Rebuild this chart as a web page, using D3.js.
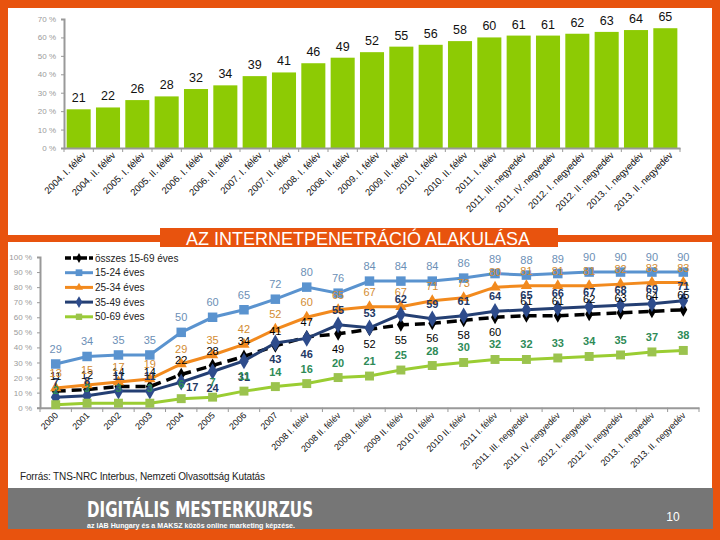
<!DOCTYPE html>
<html><head><meta charset="utf-8">
<script src="https://cdn.jsdelivr.net/npm/d3@7"></script>
<style>body{margin:0;padding:0;}svg{display:block;font-family:"Liberation Sans",Arial,sans-serif;}</style>
</head><body>
<script>
// ---------- DATA ----------
const topCats = ["2004. I. félév","2004. II. félév","2005. I. félév","2005. II. félév","2006. I. félév","2006. II. félév","2007. I. félév","2007. II. félév","2008. I. félév","2008. II. félév","2009. I. félév","2009. II. félév","2010. I. félév","2010. II. félév","2011. I. félév","2011. III. negyedév","2011. IV. negyedév","2012. I. negyedév","2012. II. negyedév","2013. I. negyedév","2013. II. negyedév"];
const topValues = [21,22,26,28,32,34,39,41,46,49,52,55,56,58,60,61,61,62,63,64,65];
const topTicks = [0,10,20,30,40,50,60,70];

const bottomCats = ["2000","2001","2002","2003","2004","2005","2006","2007","2008 I. félév","2008 II. félév","2009 I. félév","2009 II. félév","2010 I. félév","2010 II. félév","2011 I. félév","2011. III. negyedév","2011. IV. negyedév","2012. I. negyedév","2012. II. negyedév","2013. I. negyedév","2013. II. negyedév"];
const bottomTicks = [0,10,20,30,40,50,60,70,80,90,100];
const seriesNames = ["összes 15-69 éves","15-24 éves","25-34 éves","35-49 éves","50-69 éves"];
const totalAll = [11,12,14,14,22,28,34,41,47,49,52,55,56,58,60,61,61,62,63,64,65];
const age1524 = [29,34,35,35,50,60,65,72,80,76,84,84,84,86,89,88,89,90,90,90,90];
const age2534 = [13,15,17,19,29,35,42,52,60,65,67,67,71,73,80,81,81,81,82,83,83];
const age3549 = [7,8,11,11,17,24,31,43,46,55,53,62,59,61,64,65,66,67,68,69,71];
const age5069 = [2,3,3,3,6,7,11,14,16,20,21,25,28,30,32,32,33,34,35,37,38];

const title = "AZ INTERNETPENETRÁCIÓ ALAKULÁSA";
const source = "Forrás: TNS-NRC Interbus, Nemzeti Olvasottság Kutatás";

// ---------- DRAW ----------
const W = 720, H = 540;
const orange = "#E8530E";
const svg = d3.select("body").append("svg").attr("width", W).attr("height", H);
svg.append("rect").attr("width", W).attr("height", H).attr("fill", orange);
svg.append("rect").attr("x", 8).attr("y", 8).attr("width", 704).attr("height", 480).attr("fill", "#fff");

// ---- top bar chart ----
const xT = d3.scaleBand().domain(topCats).range([64, 680]).paddingInner(0.18).paddingOuter(0.09);
const yT = d3.scaleLinear().domain([0, 70]).range([148, 19]);
const gT = svg.append("g");
const yAxT = gT.append("g").attr("transform", "translate(64,0)")
  .call(d3.axisLeft(yT).tickValues(topTicks).tickSize(3).tickFormat(d => d + " %"));
yAxT.select(".domain").attr("stroke", "#999").attr("stroke-width", 2);
yAxT.selectAll(".tick line").attr("stroke", "#999");
yAxT.selectAll(".tick text").attr("fill", "#9a9a9a").attr("font-size", 8).attr("x", -8);

gT.selectAll("rect.bar").data(topValues).join("rect").attr("class", "bar")
  .attr("x", (d, i) => xT(topCats[i])).attr("width", xT.bandwidth())
  .attr("y", d => yT(d)).attr("height", d => yT(0) - yT(d)).attr("fill", "#8DCB04");
gT.selectAll("text.bl").data(topValues).join("text").attr("class", "bl")
  .attr("x", (d, i) => xT(topCats[i]) + xT.bandwidth() / 2).attr("y", d => yT(d) - 7)
  .attr("text-anchor", "middle").attr("font-size", 12.5).attr("fill", "#111").text(d => d);

const xAxT = gT.append("g").attr("transform", "translate(0,148)")
  .call(d3.axisBottom(xT).tickSize(0).tickFormat(""));
xAxT.select(".domain").attr("stroke", "#999").attr("stroke-width", 2);
gT.selectAll("line.tt").data(d3.range(topCats.length + 1)).join("line").attr("class", "tt")
  .attr("x1", i => 64 + i * (616 / topCats.length)).attr("x2", i => 64 + i * (616 / topCats.length))
  .attr("y1", 148).attr("y2", 152).attr("stroke", "#999");
gT.selectAll("text.xl").data(topCats).join("text").attr("class", "xl")
  .attr("transform", d => `translate(${xT(d) + xT.bandwidth() / 2 + 8},156) rotate(-45)`)
  .attr("text-anchor", "end").attr("font-size", 9.5).attr("fill", "#111").text(d => d);

// ---- title band ----
svg.append("rect").attr("x", 8).attr("y", 235).attr("width", 704).attr("height", 7).attr("fill", orange);
svg.append("rect").attr("x", 160).attr("y", 228).attr("width", 398).attr("height", 19).attr("fill", orange);
svg.append("text").attr("x", 358).attr("y", 245).attr("text-anchor", "middle")
  .attr("font-size", 18).attr("fill", "#fff").text(title);

// ---- bottom line chart ----
const xB = d3.scaleBand().domain(bottomCats).range([40, 699]);
const yB = d3.scaleLinear().domain([0, 100]).range([407.7, 257]);
const cx = i => xB(bottomCats[i]) + xB.bandwidth() / 2;
const gB = svg.append("g");
const yAxB = gB.append("g").attr("transform", "translate(40,0)")
  .call(d3.axisLeft(yB).tickValues(bottomTicks).tickSize(3).tickFormat(d => d + " %"));
yAxB.select(".domain").attr("stroke", "#999").attr("stroke-width", 2);
yAxB.selectAll(".tick line").attr("stroke", "#999");
yAxB.selectAll(".tick text").attr("fill", "#9a9a9a").attr("font-size", 8).attr("x", -8);
const xAxB = gB.append("g").attr("transform", "translate(0,407.7)")
  .call(d3.axisBottom(xB).tickSize(0).tickFormat(""));
xAxB.select(".domain").attr("stroke", "#999").attr("stroke-width", 2);
gB.selectAll("line.bt").data(d3.range(bottomCats.length + 1)).join("line").attr("class", "bt")
  .attr("x1", i => 40 + i * xB.step()).attr("x2", i => 40 + i * xB.step())
  .attr("y1", 407.7).attr("y2", 412).attr("stroke", "#999");
gB.selectAll("text.xl").data(bottomCats).join("text").attr("class", "xl")
  .attr("transform", (d, i) => `translate(${cx(i) + 3},${416}) rotate(-45)`)
  .attr("text-anchor", "end").attr("font-size", 9).attr("fill", "#111").text(d => d);

const series = [
  {name: seriesNames[0], vals: totalAll, color: "#000", width: 3.5, dash: "10,6", sym: d3.symbolDiamond, size: 55, mfill: "#000", lab: "#000", bold: false},
  {name: seriesNames[1], vals: age1524, color: "#5A93CF", width: 3, dash: null, sym: d3.symbolSquare, size: 90, mfill: "#5A93CF", lab: "#6C8FB6", bold: false},
  {name: seriesNames[2], vals: age2534, color: "#F28A1E", width: 3, dash: null, sym: d3.symbolTriangle, size: 55, mfill: "#F28A1E", lab: "#D38C33", bold: false},
  {name: seriesNames[3], vals: age3549, color: "#243F73", width: 3, dash: null, sym: d3.symbolDiamond, size: 80, mfill: "#2E4C8C", lab: "#1F3864", bold: true},
  {name: seriesNames[4], vals: age5069, color: "#9ACD32", width: 3, dash: null, sym: d3.symbolSquare, size: 80, mfill: "#9BC34E", lab: "#2E8B57", bold: true}
];
const line = d3.line().x((d, i) => cx(i)).y(d => yB(d));
series.forEach(s => {
  gB.append("path").datum(s.vals).attr("d", line).attr("fill", "none")
    .attr("stroke", s.color).attr("stroke-width", s.width).attr("stroke-dasharray", s.dash);
  gB.selectAll(null).data(s.vals).join("path")
    .attr("transform", (d, i) => `translate(${cx(i)},${yB(d)})`)
    .attr("d", d3.symbol().type(s.sym).size(s.size)).attr("fill", s.mfill);
});
// label placement (offset from point)
function labOff(si, i) {
  if (si === 0 && i >= 9 && i <= 14) return [0, 19];
  if (si === 3 && i === 4) return [11, 9];
  if (si === 3 && i >= 5 && i <= 8) return [0, 20];
  return [0, -11];
}
series.forEach((s, si) => {
  gB.selectAll(null).data(s.vals).join("text")
    .attr("x", (d, i) => cx(i) + labOff(si, i)[0]).attr("y", (d, i) => yB(d) + labOff(si, i)[1])
    .attr("text-anchor", "middle").attr("font-size", 11).attr("font-weight", s.bold ? "bold" : "normal")
    .attr("fill", s.lab).text(d => d);
});
// legend
const lg = svg.append("g");
series.forEach((s, k) => {
  const y = 258 + k * 14.7;
  lg.append("line").attr("x1", 65).attr("x2", 93).attr("y1", y).attr("y2", y)
    .attr("stroke", s.color).attr("stroke-width", s.width).attr("stroke-dasharray", k === 0 ? "6,2" : null);
  lg.append("path").attr("transform", `translate(79,${y})`).attr("d", d3.symbol().type(s.sym).size(s.size * 0.5)).attr("fill", s.mfill);
  lg.append("text").attr("x", 95).attr("y", y + 3.5).attr("font-size", 10).attr("fill", "#222").text(s.name);
});

// source
svg.append("text").attr("x", 20).attr("y", 480).attr("font-size", 10).attr("fill", "#222")
  .attr("textLength", 245).attr("lengthAdjust", "spacing").text(source);

// footer band
svg.append("rect").attr("x", 8).attr("y", 488).attr("width", 705).attr("height", 41).attr("fill", "#767676");
svg.append("text").attr("x", 87).attr("y", 517).attr("font-size", 21).attr("font-weight", "bold")
  .attr("font-family", "DejaVu Sans Condensed, DejaVu Sans").attr("fill", "#fff")
  .attr("textLength", 226).attr("lengthAdjust", "spacingAndGlyphs").text("DIGITÁLIS MESTERKURZUS");
svg.append("text").attr("x", 87).attr("y", 528).attr("font-size", 7).attr("font-weight", "bold")
  .attr("fill", "#fff").attr("textLength", 208).attr("lengthAdjust", "spacingAndGlyphs")
  .text("az IAB Hungary és a MAKSZ közös online marketing képzése.");
svg.append("text").attr("x", 673).attr("y", 521).attr("text-anchor", "middle").attr("font-size", 12).attr("fill", "#fff").text("10");
</script>
</body></html>
